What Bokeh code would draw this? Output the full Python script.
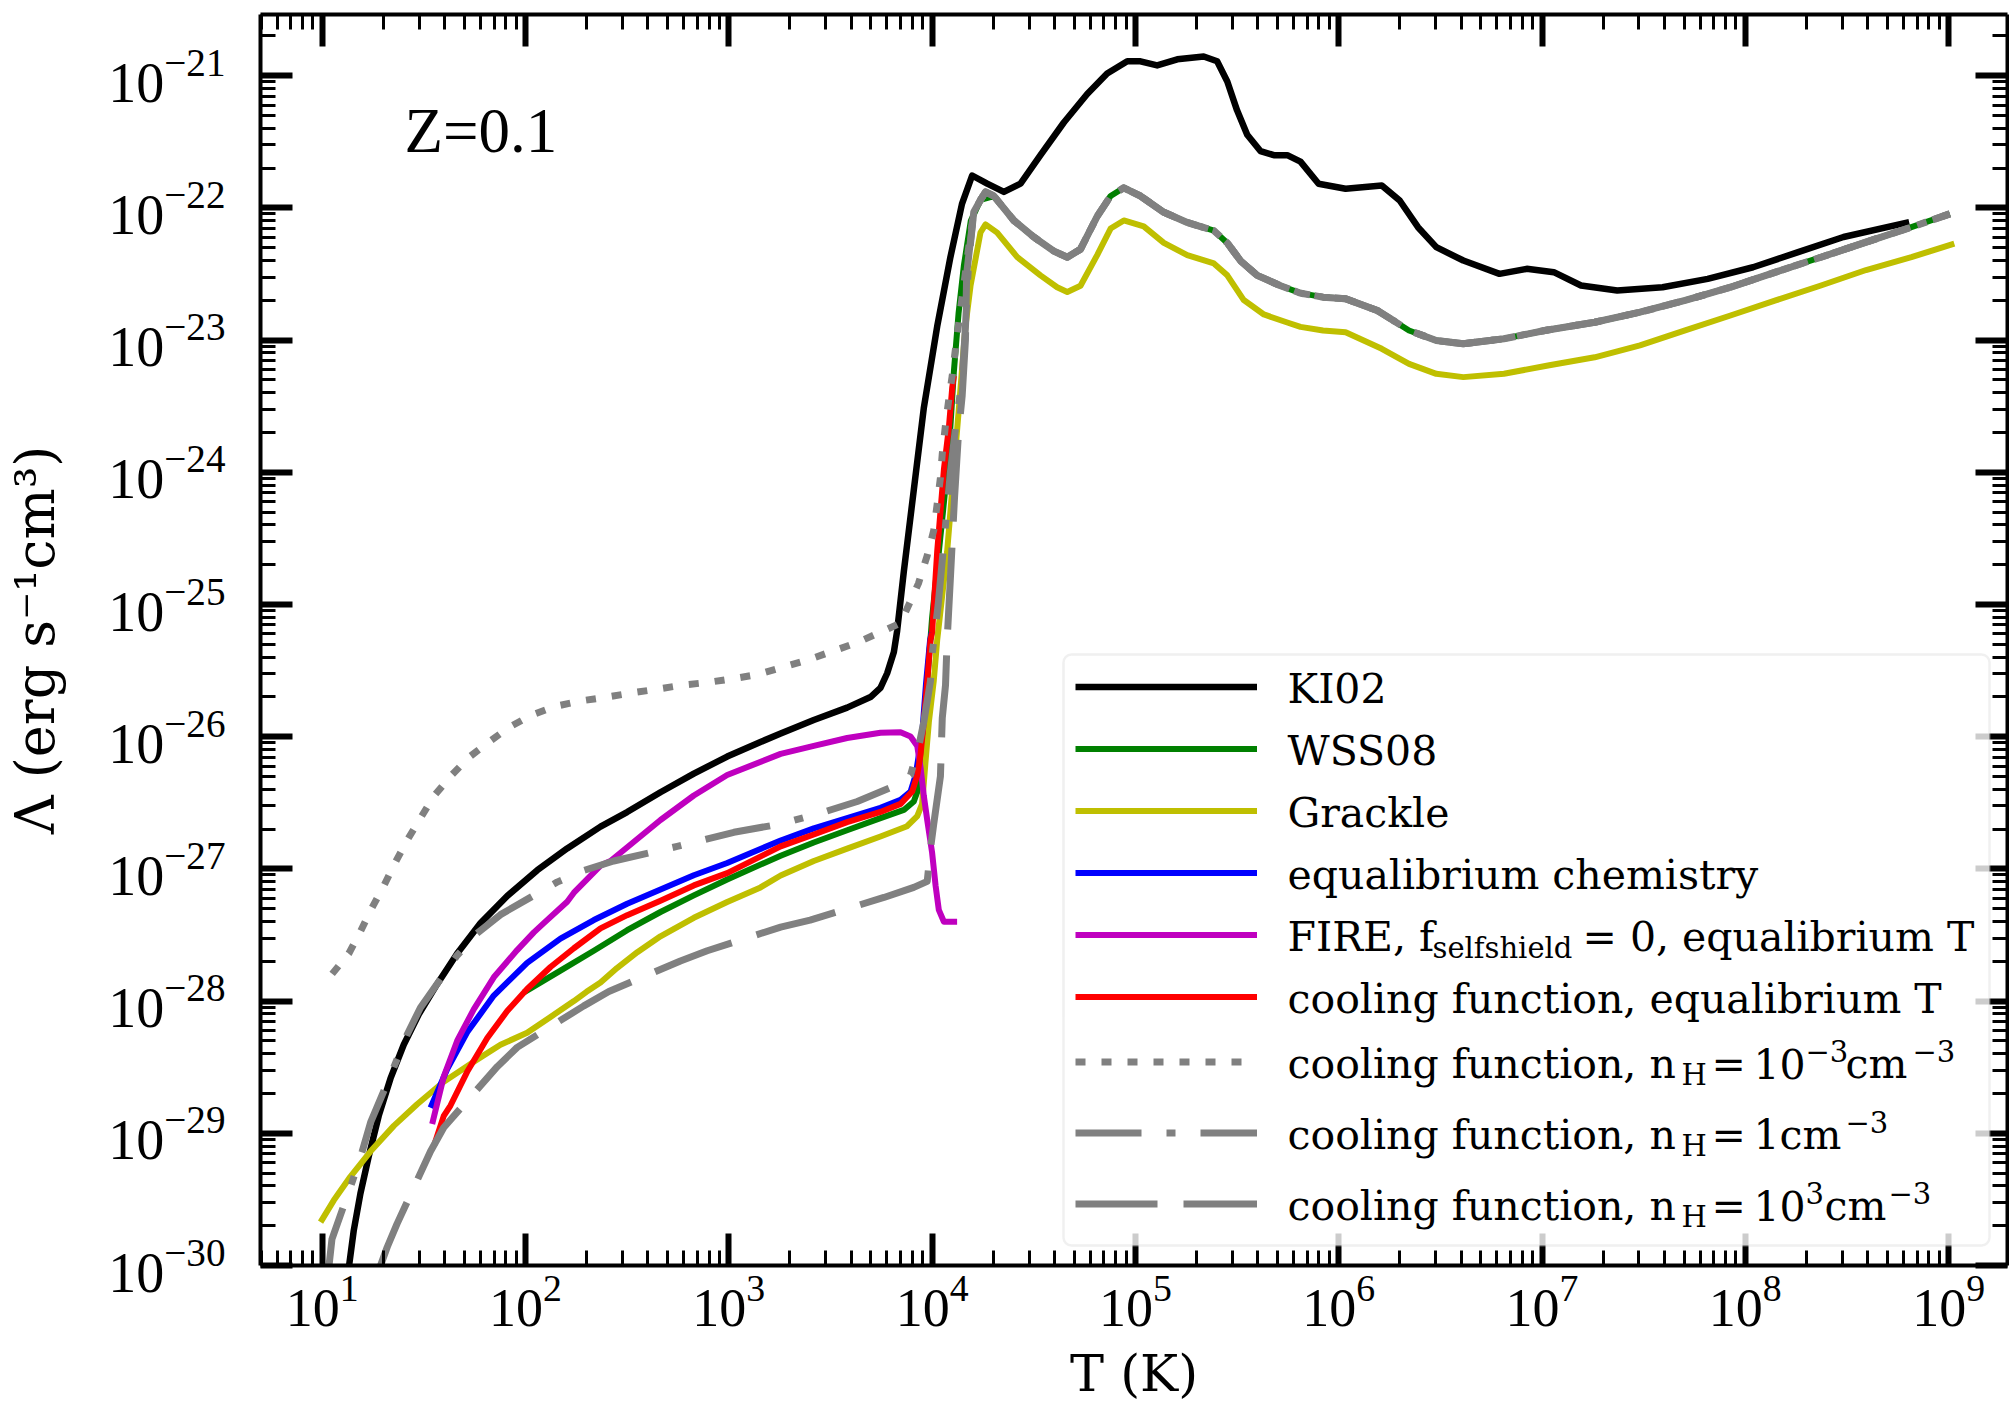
import numpy as np
from bokeh.plotting import figure
from bokeh.models import (Range1d, FixedTicker, LogAxis, Label, Legend, LegendItem,
                          BoxAnnotation, ColumnDataSource)
from bokeh.embed import file_html
from bokeh.resources import INLINE

# ---------------- data (log10 T [K], log10 Lambda [erg s^-1 cm^3]) ----------------
ki02_logT = [1.128, 1.155, 1.188, 1.229, 1.278, 1.336, 1.401, 1.475, 1.566, 1.664, 1.779, 1.91,
             2.058, 2.205, 2.369, 2.50, 2.664, 2.828, 2.992, 3.156, 3.255, 3.418, 3.582, 3.697,
             3.746, 3.779, 3.812, 3.828, 3.861, 3.91, 3.959, 4.025, 4.09, 4.147, 4.197, 4.271,
             4.353, 4.435, 4.533, 4.648, 4.763, 4.861, 4.96, 5.025, 5.107, 5.206, 5.336, 5.402,
             5.452, 5.50, 5.55, 5.615, 5.681, 5.747, 5.812, 5.901, 6.034, 6.212, 6.30, 6.39,
             6.48, 6.613, 6.791, 6.925, 7.058, 7.192, 7.37, 7.593, 7.815, 8.038, 8.26, 8.483,
             8.806]
ki02_logL = [-30.05, -29.737, -29.455, -29.174, -28.868, -28.585, -28.33, -28.10, -27.87, -27.64,
             -27.41, -27.205, -27.01, -26.845, -26.68, -26.57, -26.42, -26.28, -26.15, -26.04,
             -25.975, -25.874, -25.78, -25.70, -25.63, -25.52, -25.36, -25.2, -24.75, -24.133,
             -23.516, -22.897, -22.373, -21.97, -21.755, -21.817, -21.879, -21.817, -21.601,
             -21.354, -21.138, -20.983, -20.891, -20.891, -20.922, -20.876, -20.855, -20.891,
             -21.044, -21.262, -21.447, -21.57, -21.601, -21.601, -21.65, -21.817, -21.855,
             -21.83, -21.944, -22.146, -22.297, -22.398, -22.499, -22.461, -22.486, -22.587,
             -22.625, -22.60, -22.537, -22.449, -22.335, -22.22, -22.108]

# hot branch shared by the cooling-function curves and WSS08 (they overlap)
hot_logT = [4.263, 4.304, 4.402, 4.50, 4.599, 4.665, 4.73, 4.812, 4.878, 4.943, 5.025, 5.14,
            5.255, 5.386, 5.452, 5.517, 5.599, 5.714, 5.812, 5.923, 6.034, 6.19, 6.346, 6.48,
            6.613, 6.813, 7.014, 7.259, 7.482, 7.704, 7.927, 8.149, 8.372, 8.594, 8.817, 9.006]
hot_logL = [-21.879, -21.91, -22.095, -22.22, -22.327, -22.373, -22.312, -22.064, -21.91,
            -21.848, -21.91, -22.033, -22.11, -22.172, -22.265, -22.40, -22.51, -22.589,
            -22.645, -22.675, -22.687, -22.776, -22.927, -23.003, -23.028, -22.99, -22.927,
            -22.865, -22.789, -22.70, -22.60, -22.486, -22.373, -22.259, -22.146, -22.045]

wss_cool_logT = [1.992, 2.172, 2.336, 2.50, 2.664, 2.828, 2.992, 3.255, 3.418, 3.582, 3.746,
                 3.861, 3.91, 3.935, 3.955, 3.975, 4.0, 4.04, 4.08, 4.107, 4.13, 4.156, 4.19, 4.238]
wss_cool_logL = [-27.934, -27.77, -27.619, -27.464, -27.326, -27.20, -27.08, -26.90, -26.80,
                 -26.708, -26.616, -26.554, -26.49, -26.384, -26.1, -25.6, -25.1, -24.5, -23.9,
                 -23.24, -22.8, -22.44, -22.1, -21.94]

grackle_logT = [0.992, 1.057, 1.139, 1.238, 1.352, 1.467, 1.598, 1.746, 1.877, 2.008, 2.123,
                2.238, 2.30, 2.369, 2.45, 2.55, 2.664, 2.828, 2.992, 3.156, 3.255, 3.418, 3.582,
                3.746, 3.877, 3.927, 3.951, 3.967, 3.984, 4.008, 4.025, 4.074, 4.107, 4.14, 4.164,
                4.189, 4.238, 4.263, 4.32, 4.419, 4.533, 4.615, 4.665, 4.73, 4.812, 4.878, 4.943,
                5.041, 5.14, 5.255, 5.386, 5.452, 5.533, 5.632, 5.747, 5.812, 5.923, 6.034, 6.212,
                6.346, 6.48, 6.613, 6.813, 7.036, 7.259, 7.482, 7.704, 7.927, 8.149, 8.372, 8.594,
                8.817, 9.028]
grackle_logL = [-29.672, -29.507, -29.327, -29.136, -28.944, -28.78, -28.61, -28.458, -28.33,
                -28.24, -28.12, -28.00, -27.93, -27.86, -27.75, -27.63, -27.51, -27.37, -27.25,
                -27.14, -27.05, -26.94, -26.847, -26.755, -26.677, -26.60, -26.508, -26.20,
                -25.89, -25.58, -25.27, -24.60, -23.98, -23.36, -22.897, -22.589, -22.186,
                -22.125, -22.187, -22.373, -22.51, -22.60, -22.636, -22.589, -22.357, -22.156,
                -22.095, -22.14, -22.265, -22.357, -22.42, -22.51, -22.697, -22.806, -22.867,
                -22.90, -22.927, -22.94, -23.066, -23.18, -23.255, -23.28, -23.255, -23.19,
                -23.13, -23.04, -22.927, -22.814, -22.70, -22.587, -22.47, -22.373, -22.27]

eqchem_logT = [1.533, 1.615, 1.713, 1.844, 2.008, 2.172, 2.336, 2.50, 2.664, 2.828, 2.992, 3.255,
               3.418, 3.582, 3.746, 3.845, 3.894, 3.919, 3.935, 3.951, 3.97, 3.99, 4.0]
eqchem_logL = [-28.807, -28.514, -28.236, -27.958, -27.711, -27.527, -27.387, -27.264, -27.156,
               -27.048, -26.955, -26.785, -26.693, -26.616, -26.538, -26.477, -26.415, -26.29,
               -26.137, -25.983, -25.6, -25.27, -25.2]

fire_logT = [1.541, 1.598, 1.664, 1.746, 1.844, 1.959, 2.041, 2.09, 2.205, 2.238, 2.369, 2.418,
             2.664, 2.828, 2.992, 3.255, 3.418, 3.582, 3.746, 3.845, 3.894, 3.927, 3.943, 3.959,
             3.976, 4.0, 4.017, 4.033, 4.058, 4.123]
fire_logL = [-28.93, -28.57, -28.30, -28.06, -27.82, -27.614, -27.48, -27.41, -27.248, -27.18,
             -26.975, -26.94, -26.63, -26.445, -26.29, -26.13, -26.07, -26.01, -25.97, -25.967,
             -25.998, -26.07, -26.23, -26.445, -26.63, -26.877, -27.125, -27.31, -27.40, -27.40]

cfeq_logT = [1.549, 1.598, 1.631, 1.713, 1.812, 1.91, 2.008, 2.123, 2.238, 2.369, 2.50, 2.664,
             2.828, 2.992, 3.255, 3.418, 3.582, 3.746, 3.845, 3.902, 3.927, 3.943, 3.959, 3.976,
             3.992, 4.0, 4.025, 4.058, 4.082, 4.099, 4.107]
cfeq_logL = [-29.097, -28.868, -28.79, -28.535, -28.279, -28.075, -27.908, -27.742, -27.60,
             -27.45, -27.35, -27.24, -27.125, -27.032, -26.83, -26.74, -26.646, -26.569, -26.508,
             -26.415, -26.29, -26.137, -25.89, -25.58, -25.27, -25.21, -24.60, -23.98, -23.67,
             -23.36, -23.27]

n3m_cool_logT = [1.049, 1.131, 1.188, 1.245, 1.303, 1.36, 1.418, 1.483, 1.549, 1.631, 1.721, 1.82,
                 1.918, 2.025, 2.148, 2.27, 2.40, 2.517, 2.648, 2.77, 2.894, 3.025, 3.14, 3.387,
                 3.628, 3.76, 3.845, 3.933, 3.976, 4.008, 4.025, 4.041, 4.05, 4.066, 4.082, 4.099,
                 4.12, 4.15, 4.18, 4.205, 4.238]
n3m_cool_logL = [-27.794, -27.64, -27.474, -27.294, -27.128, -26.95, -26.783, -26.617, -26.45,
                 -26.30, -26.157, -26.04, -25.93, -25.84, -25.77, -25.73, -25.70, -25.67, -25.64,
                 -25.61, -25.59, -25.56, -25.53, -25.42, -25.29, -25.20, -25.14, -24.84, -24.63,
                 -24.44, -24.24, -24.04, -23.86, -23.64, -23.45, -23.27, -23.0, -22.65, -22.3,
                 -22.03, -21.94]

n0_cool_logT = [1.03, 1.048, 1.148, 1.197, 1.238, 1.36, 1.418, 1.483, 1.664, 1.762, 1.877, 2.155,
                2.287, 2.434, 2.746, 2.877, 3.025, 3.255, 3.467, 3.632, 3.845, 3.894, 3.935, 3.959,
                3.992, 4.0, 4.03, 4.066, 4.09, 4.12, 4.148, 4.164, 4.18, 4.205, 4.238]
n0_cool_logL = [-30.05, -29.80, -29.366, -29.136, -28.918, -28.471, -28.253, -28.05, -27.654,
                -27.487, -27.346, -27.10, -27.012, -26.94, -26.83, -26.78, -26.723, -26.66,
                -26.57, -26.49, -26.353, -26.29, -26.07, -25.89, -25.58, -25.38, -25.0, -24.4,
                -24.0, -23.6, -23.3, -22.9, -22.4, -22.03, -21.94]

n3_cool_logT = [1.27, 1.287, 1.32, 1.368, 1.533, 1.598, 1.861, 1.959, 2.287, 2.41, 2.762, 2.894,
                3.255, 3.40, 3.763, 3.91, 3.976, 3.992, 4.008, 4.041, 4.05, 4.066, 4.074, 4.09,
                4.11, 4.13, 4.148, 4.164, 4.17, 4.205, 4.238]
n3_cool_logL = [-30.1, -30.0, -29.86, -29.685, -29.136, -28.956, -28.496, -28.35, -28.036,
                -27.927, -27.696, -27.619, -27.44, -27.387, -27.216, -27.14, -27.094, -26.85,
                -26.66, -26.30, -25.86, -25.61, -25.27, -24.8, -24.2, -23.7, -23.42, -23.0, -22.5,
                -22.03, -21.94]

x_major = [10.0 ** k for k in range(1, 10)]
y_major = [10.0 ** k for k in range(-30, -20)]

# ---------------- layout (pixels) ----------------
W, H = 2009, 1405
FL, FR, FT, FB = 260, 2007, 14, 1265
X_DEC0, X_DEC = 321.7, 203.3        # pixel of 10^1, pixels per decade
Y_DEC = 132.2                       # pixels per decade, bottom = 10^-30

x_lo = 10 ** (1 + (FL - X_DEC0) / X_DEC)
x_hi = 10 ** (1 + (FR - X_DEC0) / X_DEC)
y_lo = 1e-30
y_hi = 10 ** (-30 + (FB - FT) / Y_DEC)

SERIF = "DejaVu Serif"

p = figure(width=W, height=H, x_axis_type="log", y_axis_type="log",
           x_range=Range1d(x_lo, x_hi), y_range=Range1d(y_lo, y_hi),
           output_backend="svg", toolbar_location=None,
           min_border_left=FL, min_border_right=W - FR, min_border_top=FT,
           min_border_bottom=H - FB)
p.grid.visible = False
p.outline_line_color = None
p.background_fill_color = "white"
p.border_fill_color = "white"

xt = FixedTicker(ticks=x_major, minor_ticks=[m * 10.0 ** k for k in range(0, 10) for m in range(2, 10)])
yt = FixedTicker(ticks=y_major, minor_ticks=[m * 10.0 ** k for k in range(-31, -20) for m in range(2, 10)])


def style_axis(ax):
    ax.axis_line_width = 4
    ax.axis_line_color = "black"
    ax.major_tick_in = 32
    ax.major_tick_out = 0
    ax.minor_tick_in = 15
    ax.minor_tick_out = 0
    ax.major_tick_line_width = 6
    ax.minor_tick_line_width = 3
    ax.major_tick_line_color = "black"
    ax.minor_tick_line_color = "black"


xa = p.xaxis[0]
ya = p.yaxis[0]
xa.ticker = xt
ya.ticker = yt
for ax in (xa, ya):
    style_axis(ax)
    ax.major_label_text_font = "Liberation Serif"
    ax.major_label_text_color = "black"
    ax.axis_label_text_font = SERIF
    ax.axis_label_text_font_style = "normal"
    ax.axis_label_text_color = "black"
xa.major_label_text_font_size = "54px"
ya.major_label_text_font_size = "56px"
xa.axis_label_text_font_size = "51px"
ya.axis_label_text_font_size = "54px"
xa.major_label_standoff = 10
ya.major_label_standoff = 35
xa.axis_label = "T (K)"
ya.axis_label = "Λ (erg s⁻¹cm³)"
xa.axis_label_standoff = 15
ya.axis_label_standoff = 38

top_ax = LogAxis(ticker=xt, major_label_text_font_size="1px", major_label_text_alpha=0,
                 major_label_standoff=0)
right_ax = LogAxis(ticker=yt, major_label_text_font_size="1px", major_label_text_alpha=0,
                   major_label_standoff=0)
style_axis(top_ax)
style_axis(right_ax)
p.add_layout(top_ax, "above")
p.add_layout(right_ax, "right")

GRAY = "#808080"
specs = [
    (ki02_logT, ki02_logL, "black", 6.5, "solid"),
    (wss_cool_logT + hot_logT[1:], wss_cool_logL + hot_logL[1:], "#008000", 6, "solid"),
    (grackle_logT, grackle_logL, "#bfbf00", 6, "solid"),
    (eqchem_logT, eqchem_logL, "#0000ff", 6, "solid"),
    (fire_logT, fire_logL, "#bf00bf", 6, "solid"),
    (cfeq_logT, cfeq_logL, "#ff0000", 6, "solid"),
    (n3m_cool_logT + hot_logT, n3m_cool_logL + hot_logL, GRAY, 7, "10 16"),
    (n0_cool_logT + hot_logT, n0_cool_logL + hot_logL, GRAY, 7, "66 25 9 25"),
    (n3_cool_logT + hot_logT, n3_cool_logL + hot_logL, GRAY, 7, "82 26"),
]
renderers = []
for lt, ll, col, lw, dash in specs:
    src = ColumnDataSource(dict(T=10.0 ** np.array(lt), L=10.0 ** np.array(ll)))
    r = p.line("T", "L", source=src, line_color=col, line_width=lw, line_dash=dash,
               line_join="round")
    renderers.append(r)

# ---------------- legend ----------------
def sx(X):
    return X - FL


def sy(Y):
    return FB - Y


box = BoxAnnotation(left=sx(1063), right=sx(1989), top=sy(654), bottom=sy(1245),
                    left_units="screen", right_units="screen", top_units="screen",
                    bottom_units="screen", fill_color="white", fill_alpha=0.8,
                    line_color="#cccccc", line_width=2.5, border_radius=8)
p.add_layout(box)

GLYPH_X0 = 1075
ROW_H = 41
rows1_c0, rows1_pitch = 687, 62
rows2_c0, rows2_pitch = 1062, 71
leg1 = Legend(items=[LegendItem(label=" ", renderers=[r]) for r in renderers[:6]],
              location=(sx(GLYPH_X0), sy(rows1_c0 + 5 * rows1_pitch + ROW_H // 2)),
              spacing=rows1_pitch - ROW_H)
leg2 = Legend(items=[LegendItem(label=" ", renderers=[r]) for r in renderers[6:]],
              location=(sx(GLYPH_X0), sy(rows2_c0 + 2 * rows2_pitch + ROW_H // 2)),
              spacing=rows2_pitch - ROW_H)
for lg in (leg1, leg2):
    lg.padding = 0
    lg.margin = 0
    lg.glyph_width = 182
    lg.glyph_height = ROW_H
    lg.label_height = ROW_H
    lg.label_width = 10
    lg.label_standoff = 0
    lg.label_text_font_size = "10px"
    lg.border_line_color = None
    lg.background_fill_alpha = 0
    p.add_layout(lg)

centers = [rows1_c0 + i * rows1_pitch for i in range(6)] + [rows2_c0 + i * rows2_pitch for i in range(3)]
TX = 1287
row_segments = [
    [("KI02", TX, "m")],
    [("WSS08", TX, "m")],
    [("Grackle", TX, "m")],
    [("equalibrium chemistry", TX, "m")],
    [("FIRE, f", TX, "m"), ("selfshield", 1432, "sub"), ("= 0, equalibrium T", 1582, "m")],
    [("cooling function, equalibrium T", TX, "m")],
    [("cooling function, n", TX, "m"), ("H", 1681, "sub"), ("=", 1711, "m"), ("10", 1753, "m"),
     ("−3", 1805, "sup"), ("cm", 1845, "m"), ("−3", 1912, "sup")],
    [("cooling function, n", TX, "m"), ("H", 1681, "sub"), ("=", 1711, "m"), ("1cm", 1753, "m"),
     ("−3", 1845, "sup")],
    [("cooling function, n", TX, "m"), ("H", 1681, "sub"), ("=", 1711, "m"), ("10", 1753, "m"),
     ("3", 1805, "sup"), ("cm", 1824, "m"), ("−3", 1888, "sup")],
]
TEXT_SHIFT = 0.31   # rendered text sits this fraction of its size below the requested baseline
for c, segs in zip(centers, row_segments):
    base = c + 14
    for txt, X, kind in segs:
        if kind == "m":
            size, b = 41, base
        elif kind == "sub":
            size, b = 29, base + 7
        else:
            size, b = 29, base - 17
        p.add_layout(Label(x=sx(X), y=sy(b - TEXT_SHIFT * size), x_units="screen", y_units="screen",
                           text=txt, text_font=SERIF, text_font_size=f"{size}px",
                           text_color="black", text_baseline="alphabetic", text_align="left"))

p.add_layout(Label(x=sx(404), y=sy(150 - TEXT_SHIFT * 63), x_units="screen", y_units="screen",
                   text="Z=0.1", text_font="Liberation Serif", text_font_size="63px",
                   text_color="black", text_baseline="alphabetic"))

open("out.html", "w").write(file_html(p, INLINE))
